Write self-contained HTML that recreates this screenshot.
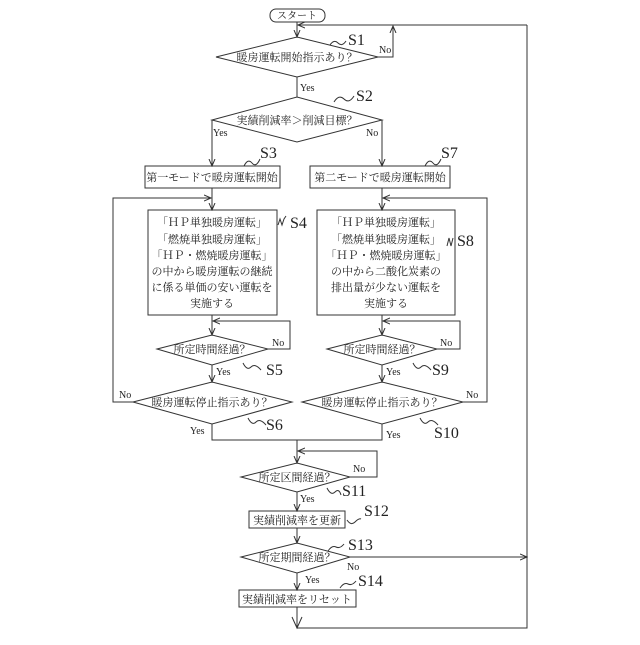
<!DOCTYPE html>
<html><head><meta charset="utf-8"><style>
body{margin:0;background:#fff}
svg text{font-family:"Liberation Serif","Noto Serif CJK SC",serif;fill:#222}
.j{font-size:11px}
.s{font-size:16px}
.y{font-size:10px}
</style></head><body>
<svg width="640" height="640" viewBox="0 0 640 640" xmlns="http://www.w3.org/2000/svg">
<defs><marker id="a" markerWidth="8" markerHeight="8" refX="7" refY="4" orient="auto" markerUnits="userSpaceOnUse"><path d="M0,1 L7,4 L0,7" fill="none" stroke="#333" stroke-width="1"/></marker></defs>
<g fill="none" stroke="#333" stroke-width="1">
<rect x="270" y="9" width="55" height="13" rx="6"/>
<path d="M297 22 V37" marker-end="url(#a)"/>
<path d="M527 25 H298" marker-end="url(#a)"/>
<path d="M527 25 V628 H297"/>
<polygon points="216,57 297,37 378,57 297,77"/>
<path d="M378 57 H393 V26" marker-end="url(#a)"/>
<path d="M297 77 V97"/>
<polygon points="212,120 297,97 382,120 297,142"/>
<path d="M212 120 V166" marker-end="url(#a)"/>
<path d="M382 120 V166" marker-end="url(#a)"/>
<rect x="145" y="166" width="135" height="22"/>
<rect x="310" y="166" width="140" height="22"/>
<path d="M212 188 V210" marker-end="url(#a)"/>
<path d="M382 188 V210" marker-end="url(#a)"/>
<path d="M133 402 H113 V198 H211" marker-end="url(#a)"/>
<path d="M463 402 H487 V198 H383" marker-end="url(#a)"/>
<rect x="148" y="210" width="129" height="105"/>
<rect x="317" y="210" width="138" height="105"/>
<path d="M212 315 V335" marker-end="url(#a)"/>
<path d="M382 315 V335" marker-end="url(#a)"/>
<polygon points="157,349 212,335 268,349 212,365"/>
<polygon points="327,349 382,335 437,349 382,365"/>
<path d="M268 349 H290 V321 H213" marker-end="url(#a)"/>
<path d="M437 349 H460 V321 H383" marker-end="url(#a)"/>
<path d="M212 365 V382" marker-end="url(#a)"/>
<path d="M382 365 V382" marker-end="url(#a)"/>
<polygon points="133,402 212,382 292,402 212,424"/>
<polygon points="302,402 382,382 463,402 382,424"/>
<path d="M212 424 V440 H382 V424"/>
<path d="M297 440 V463" marker-end="url(#a)"/>
<polygon points="241,477 297,463 350,477 297,492"/>
<path d="M350 477 H377 V451 H298" marker-end="url(#a)"/>
<path d="M297 492 V511" marker-end="url(#a)"/>
<rect x="249" y="511" width="96" height="17"/>
<path d="M297 528 V543" marker-end="url(#a)"/>
<polygon points="241,557 297,543 350,557 297,573"/>
<path d="M350 557 H527" marker-end="url(#a)"/>
<path d="M297 573 V590" marker-end="url(#a)"/>
<rect x="239" y="590" width="117" height="17"/>
<path d="M297 607 V628"/>
<path d="M292 617 L297 628 L302 617"/>
<path d="M330 45 q4 -6 8 -2 t8 -2"/>
<path d="M334 102 q5 -8 10 -3 t10 -3"/>
<path d="M244 166 q4 -8 8 -3 t8 -4"/>
<path d="M425 166 q4 -8 8 -3 t8 -4"/>
<path d="M278 225 l2 -6 2 6 2 -6 2 -3"/>
<path d="M447 246 l2 -8 2 8 2 -8"/>
<path d="M243 363 q4 8 8 4 t10 3"/>
<path d="M413 363 q4 8 8 4 t10 3"/>
<path d="M248 418 q4 8 8 4 t10 3"/>
<path d="M420 418 q4 8 8 4 t10 3"/>
<path d="M327 488 q4 8 8 4 t6 3"/>
<path d="M347 520 q4 6 8 2 t6 -3"/>
<path d="M328 551 q4 -6 8 -4 t8 -3"/>
<path d="M340 588 q4 -6 8 -4 t8 -3"/>
</g>
<g class="j" text-anchor="middle">
<text x="297" y="19" font-size="10">スタート</text>
<text x="297" y="61">暖房運転開始指示あり？</text>
<text x="297" y="124">実績削減率＞削減目標？</text>
<text x="212" y="181">第一モードで暖房運転開始</text>
<text x="380" y="181">第二モードで暖房運転開始</text>
<text x="212" y="226">「ＨＰ単独暖房運転」</text>
<text x="212" y="243">「燃焼単独暖房運転」</text>
<text x="212" y="259">「ＨＰ・燃焼暖房運転」</text>
<text x="212" y="275">の中から暖房運転の継続</text>
<text x="212" y="291">に係る単価の安い運転を</text>
<text x="212" y="307">実施する</text>
<text x="386" y="226">「ＨＰ単独暖房運転」</text>
<text x="386" y="243">「燃焼単独暖房運転」</text>
<text x="386" y="259">「ＨＰ・燃焼暖房運転」</text>
<text x="386" y="275">の中から二酸化炭素の</text>
<text x="386" y="291">排出量が少ない運転を</text>
<text x="386" y="307">実施する</text>
<text x="212" y="353">所定時間経過？</text>
<text x="382" y="353">所定時間経過？</text>
<text x="212" y="406">暖房運転停止指示あり？</text>
<text x="382" y="406">暖房運転停止指示あり？</text>
<text x="297" y="481">所定区間経過？</text>
<text x="297" y="524">実績削減率を更新</text>
<text x="297" y="561">所定期間経過？</text>
<text x="297" y="603">実績削減率をリセット</text>
</g>
<g class="y">
<text x="379" y="53">No</text>
<text x="300" y="91">Yes</text>
<text x="213" y="136">Yes</text>
<text x="366" y="136">No</text>
<text x="272" y="346">No</text>
<text x="440" y="346">No</text>
<text x="216" y="375">Yes</text>
<text x="386" y="375">Yes</text>
<text x="119" y="398">No</text>
<text x="466" y="398">No</text>
<text x="190" y="434">Yes</text>
<text x="386" y="438">Yes</text>
<text x="353" y="472">No</text>
<text x="300" y="502">Yes</text>
<text x="347" y="570">No</text>
<text x="305" y="583">Yes</text>
</g>
<g class="s">
<text x="348" y="45">S1</text>
<text x="356" y="101">S2</text>
<text x="260" y="158">S3</text>
<text x="441" y="158">S7</text>
<text x="290" y="228">S4</text>
<text x="457" y="246">S8</text>
<text x="266" y="375">S5</text>
<text x="432" y="375">S9</text>
<text x="266" y="430">S6</text>
<text x="434" y="438">S10</text>
<text x="342" y="496">S11</text>
<text x="364" y="516">S12</text>
<text x="348" y="550">S13</text>
<text x="358" y="586">S14</text>
</g>
</svg>
</body></html>
